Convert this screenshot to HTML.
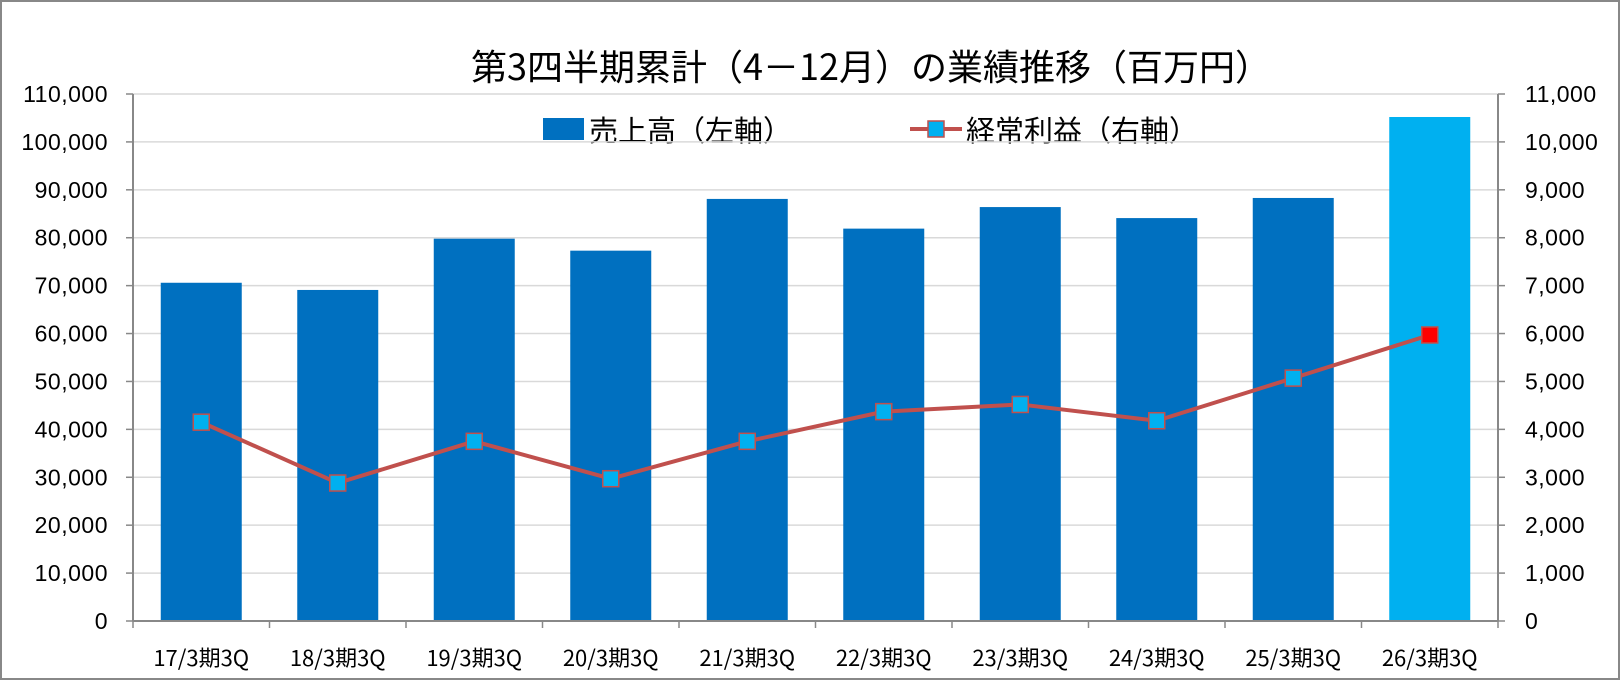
<!DOCTYPE html>
<html><head><meta charset="utf-8"><style>
body{margin:0;background:#fff}
svg text{font-family:"Liberation Sans","Noto Sans CJK JP",sans-serif;fill:#000}
svg text.j{font-family:"Noto Sans CJK JP",sans-serif}
</style></head><body>
<svg width="1621" height="681" xmlns="http://www.w3.org/2000/svg">
<rect x="1" y="1" width="1618" height="678" fill="#fff" stroke="#888" stroke-width="2"/>
<text class="j" x="871" y="80" font-size="36" text-anchor="middle">第3四半期累計（4－12月）の業績推移（百万円）</text>
<rect x="543" y="118" width="41" height="22" fill="#0070C0"/>
<text class="j" x="589" y="141" font-size="29">売上高（左軸）</text>
<line x1="910" y1="129" x2="962" y2="129" stroke="#C0504D" stroke-width="4"/>
<rect x="928" y="121" width="16" height="16" fill="#00B0F0" stroke="#C0504D" stroke-width="1.5"/>
<text class="j" x="966" y="141" font-size="29">経常利益（右軸）</text>
<script>
(function(){
const svg=document.querySelector('svg');const ns='http://www.w3.org/2000/svg';
function el(t,a,txt){const e=document.createElementNS(ns,t);for(const k in a)e.setAttribute(k,a[k]);if(txt!=null)e.textContent=txt;svg.appendChild(e);return e;}
const L=133,R=1498,T=94,B=621,H=B-T,cw=(R-L)/10;
for(let i=0;i<=11;i++){const y=B-H*i/11;
 if(i>0)el('line',{x1:L,y1:y,x2:R,y2:y,stroke:'#d9d9d9','stroke-width':1.5});
 el('line',{x1:L-7,y1:y,x2:L,y2:y,stroke:'#888','stroke-width':1.5});
 el('line',{x1:R,y1:y,x2:R+7,y2:y,stroke:'#888','stroke-width':1.5});
 el('text',{x:L-25,y:y+8,'font-size':23,'letter-spacing':'0.5','text-anchor':'end'},(i*10000).toLocaleString('en-US'));
 el('text',{x:R+27,y:y+8,'font-size':23,'letter-spacing':'0.5'},(i*1000).toLocaleString('en-US'));
}
const bars=[70600,69100,79800,77300,88100,81900,86400,84100,88300,105200];
const prof=[4150,2880,3750,2970,3750,4370,4520,4180,5070,5970];
const labs=['17','18','19','20','21','22','23','24','25','26'];
bars.forEach((v,i)=>{const cx=L+cw*(i+.5),h=H*v/110000;
 el('rect',{x:cx-40.5,y:B-h,width:81,height:h,fill:i==9?'#00B0F0':'#0070C0'});
 el('text',{x:cx,y:666,'font-size':22,'text-anchor':'middle','class':'j'},labs[i]+'/3期3Q');});
for(let i=0;i<=10;i++){const x=L+cw*i;el('line',{x1:x,y1:B,x2:x,y2:B+7,stroke:'#888','stroke-width':1.5});}
el('line',{x1:L,y1:T,x2:L,y2:B,stroke:'#888','stroke-width':2});
el('line',{x1:R,y1:T,x2:R,y2:B,stroke:'#888','stroke-width':2});
el('line',{x1:L,y1:B,x2:R,y2:B,stroke:'#888','stroke-width':2});
const pts=prof.map((v,i)=>[L+cw*(i+.5),B-H*v/11000]);
el('polyline',{points:pts.map(p=>p.join(',')).join(' '),fill:'none',stroke:'#C0504D','stroke-width':4,'stroke-linejoin':'round'});
pts.forEach((p,i)=>el('rect',{x:p[0]-8,y:p[1]-8,width:16,height:16,fill:i==9?'#FF0000':'#00B0F0',stroke:'#C0504D','stroke-width':1.5}));
})();
</script>
</svg>
</body></html>
